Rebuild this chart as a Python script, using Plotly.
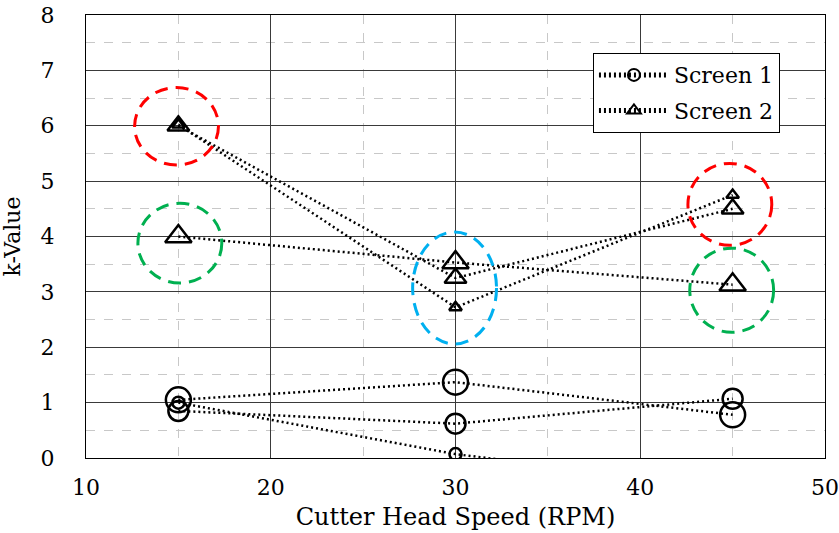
import plotly.graph_objects as go

# ---- data ----
rpm = [15, 30, 45]
# Screen 1 (circles): three runs with different marker sizes
screen1_large = [1.05, 1.37, 0.78]
screen1_medium = [0.85, 0.62, 1.07]
screen1_small = [1.00, 0.07, -0.55]
# Screen 2 (triangles)
screen2_large = [4.00, 3.53, 3.13]
screen2_medium = [6.00, 3.25, 4.50]
screen2_small = [6.02, 2.72, 4.75]

x_ticks = [10, 20, 30, 40, 50]
y_ticks = [0, 1, 2, 3, 4, 5, 6, 7, 8]

# highlight ellipses: centre x, centre y, radius x, radius y, colour
highlight_cx = [14.9, 15.08, 29.95, 44.85, 44.95]
highlight_cy = [5.99, 3.88, 3.07, 4.58, 3.03]
highlight_rx = [2.27, 2.27, 2.27, 2.27, 2.27]
highlight_ry = [0.70, 0.72, 1.01, 0.74, 0.76]
highlight_col = ["#FF0000", "#00B050", "#00B0F0", "#FF0000", "#00B050"]

FONT = "DejaVu Serif"
DOT = "2px,3px"

fig = go.Figure()

def add(ys, symbol, size, name, show):
    fig.add_trace(go.Scatter(
        x=rpm, y=ys, mode="lines+markers", name=name,
        legendgroup=name, showlegend=show,
        line=dict(color="black", width=2.5, dash=DOT),
        marker=dict(symbol=symbol, size=size, color="black",
                    line=dict(color="black", width=2.5)),
        cliponaxis=True,
    ))

add(screen1_large, "circle-open", 25, "Screen 1", False)
add(screen1_medium, "circle-open", 20, "Screen 1", True)
add(screen1_small, "circle-open", 12, "Screen 1", False)
add(screen2_large, "triangle-up-open", 23, "Screen 2", False)
add(screen2_medium, "triangle-up-open", 19, "Screen 2", True)
add(screen2_small, "triangle-up-open", 11, "Screen 2", False)

for cx, cy, rx, ry, c in zip(highlight_cx, highlight_cy, highlight_rx, highlight_ry, highlight_col):
    fig.add_shape(type="circle", xref="x", yref="y",
                  x0=cx - rx, x1=cx + rx, y0=cy - ry, y1=cy + ry,
                  line=dict(color=c, width=3, dash="13px,8px"))

fig.update_layout(
    width=839, height=533,
    margin=dict(l=86, r=14, t=15, b=75, autoexpand=False),
    paper_bgcolor="white", plot_bgcolor="white",
    font=dict(family=FONT, color="black", size=22),
    showlegend=True,
    legend=dict(x=0.686, y=0.914, xanchor="left", yanchor="top",
                bgcolor="white", bordercolor="black", borderwidth=1,
                font=dict(family=FONT, size=22, color="black"),
                itemsizing="constant", itemwidth=70, tracegroupgap=4),
    xaxis=dict(range=[10, 50], tickvals=x_ticks, ticktext=[str(v) for v in x_ticks],
               automargin=False,
               showgrid=True, gridcolor="#3a3a3a", gridwidth=1,
               showline=True, linecolor="black", linewidth=1, mirror=True,
               zeroline=False, ticks="", tickfont=dict(size=22, family=FONT),
               ticklabelstandoff=10,
               minor=dict(dtick=5, showgrid=True, gridcolor="#c8c8c8", griddash="dash", gridwidth=1),
               title=dict(text="Cutter Head Speed (RPM)", font=dict(size=24, family=FONT), standoff=8)),
    yaxis=dict(range=[0, 8], tickvals=y_ticks, ticktext=[str(v) for v in y_ticks],
               automargin=False,
               showgrid=True, gridcolor="#3a3a3a", gridwidth=1,
               showline=True, linecolor="black", linewidth=1, mirror=True,
               zeroline=False, ticks="", tickfont=dict(size=22, family=FONT),
               ticklabelstandoff=26,
               minor=dict(dtick=0.5, showgrid=True, gridcolor="#c8c8c8", griddash="dash", gridwidth=1),
               title=dict(text="k-Value", font=dict(size=22, family=FONT), standoff=14)),
)

fig.write_html("out.html")
